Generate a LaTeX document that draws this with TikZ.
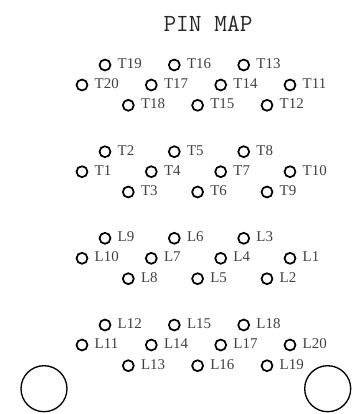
\documentclass[tikz,border=0pt]{standalone}
\usepackage{tikz}
\usepackage{fontspec}
\setmainfont{Liberation Serif}

\tikzset{
    pin/.style={draw,circle,line width=1.3pt,minimum size=8.2pt,inner sep=0pt,
        label={[pinlabel]right:#1}},
    pinlabel/.style={font=\fontsize{11.2}{12}\selectfont,text=black!75,
        inner sep=0pt,label distance=4.6pt,yshift=1pt},
    hole/.style={draw,circle,line width=1pt,minimum size=34.5pt,inner sep=0pt}
}

\begin{document}
\begin{tikzpicture}[x=0.75pt,y=-0.75pt]
    \useasboundingbox (0,0) rectangle (360,414);

    \node[font=\ttfamily\fontsize{18.5}{20}\selectfont,text=black!85] (title) at (208,24) {PIN MAP};

    % T19 to T11
    \node[pin=T19] (t19) at (105, 65) {};
    \node[pin=T16] (t16) at (174.3, 65) {};
    \node[pin=T13] (t13) at (243.7, 65) {};
    \node[pin=T20] (t20) at (82, 85) {};
    \node[pin=T17] (t17) at (151.3, 85) {};
    \node[pin=T14] (t14) at (220.7, 85) {};
    \node[pin=T11] (t11) at (290, 85) {};
    \node[pin=T18] (t18) at (128.3, 105.3) {};
    \node[pin=T15] (t15) at (197.6, 105.3) {};
    \node[pin=T12] (t12) at (267, 105.3) {};

    % T1 to T10
    \node[pin=T2] (t2) at (105, 151.7) {};
    \node[pin=T5] (t5) at (174.3, 151.7) {};
    \node[pin=T8] (t8) at (243.7, 151.7) {};
    \node[pin=T1] (t1) at (82, 171.7) {};
    \node[pin=T4] (t4) at (151.3, 171.7) {};
    \node[pin=T7] (t7) at (220.7, 171.7) {};
    \node[pin=T10] (t10) at (290, 171.7) {};
    \node[pin=T3] (t3) at (128.3, 192) {};
    \node[pin=T6] (t6) at (197.6, 192) {};
    \node[pin=T9] (t9) at (267, 192) {};

    % L1 to L10
    \node[pin=L9] (l9) at (105, 238.3) {};
    \node[pin=L6] (l6) at (174.3, 238.3) {};
    \node[pin=L3] (l3) at (243.7, 238.3) {};
    \node[pin=L10] (l10) at (82, 258.3) {};
    \node[pin=L7] (l7) at (151.3, 258.3) {};
    \node[pin=L4] (l4) at (220.7, 258.3) {};
    \node[pin=L1] (l1) at (290, 258.3) {};
    \node[pin=L8] (l8) at (128.3, 278.7) {};
    \node[pin=L5] (l5) at (197.6, 278.7) {};
    \node[pin=L2] (l2) at (267, 278.7) {};

    % L11 to L20
    \node[pin=L12] (l12) at (105, 325) {};
    \node[pin=L15] (l15) at (174.3, 325) {};
    \node[pin=L18] (l18) at (243.7, 325) {};
    \node[pin=L11] (l11) at (82, 345) {};
    \node[pin=L14] (l14) at (151.3, 345) {};
    \node[pin=L17] (l17) at (220.7, 345) {};
    \node[pin=L20] (l20) at (290, 345) {};
    \node[pin=L13] (l13) at (128.3, 365.7) {};
    \node[pin=L16] (l16) at (197.6, 365.7) {};
    \node[pin=L19] (l19) at (267, 365.7) {};

    \node[hole] (holeleft) at (44, 388.7) {};
    \node[hole] (holeright) at (327.7, 388.7) {};
\end{tikzpicture}
\end{document}
